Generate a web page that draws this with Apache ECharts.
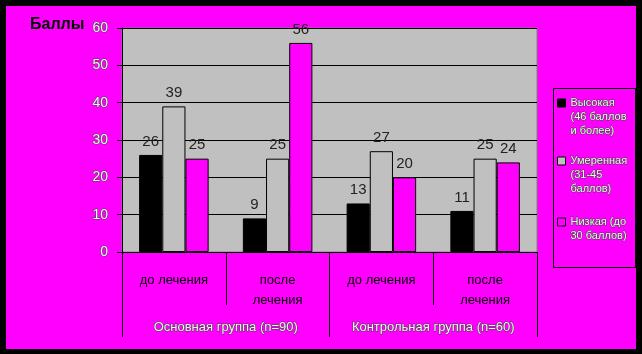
<!DOCTYPE html>
<html>
<head>
<meta charset="utf-8">
<script src="https://cdn.jsdelivr.net/npm/echarts@6/dist/echarts.min.js"></script>
<style>
  html, body { margin: 0; padding: 0; background: #000; }
  #chart { width: 642px; height: 354px; }
</style>
</head>
<body>
<div id="chart"></div>
<script>
// data
const subCategories = ['до лечения', 'после\nлечения', 'до лечения', 'после\nлечения'];
const groups = ['Основная группа (n=90)', 'Контрольная группа (n=60)'];
const seriesNames = ['Высокая (46 баллов и более)', 'Умеренная (31-45 баллов)', 'Низкая (до 30 баллов)'];
const legendText = ['Высокая\n(46 баллов\nи более)', 'Умеренная\n(31-45\nбаллов)', 'Низкая (до\n30 баллов)'];
const highValues = [26, 9, 13, 11];
const moderateValues = [39, 25, 27, 25];
const lowValues = [25, 56, 20, 24];
const yTicks = [0, 10, 20, 30, 40, 50, 60];

const FONT = '"Liberation Sans", Arial, sans-serif';
const chart = echarts.init(document.getElementById('chart'));

// light text with dark outline, as in the old office chart
const outlined = {
    color: '#f4f4f4',
    textBorderColor: '#444',
    textBorderWidth: 1,
    fontFamily: FONT,
};

const colors = ['#000000', '#c0c0c0', '#ff00ff'];
const values = [highValues, moderateValues, lowValues];

const series = seriesNames.map((name, i) => ({
    name,
    type: 'bar',
    data: values[i],
    barGap: 0,
    barCategoryGap: '33%',
    itemStyle: { color: colors[i], borderColor: '#000', borderWidth: 1 },
    label: {
        show: true,
        position: 'top',
        distance: 6,
        color: '#222',
        fontSize: 15,
        fontFamily: FONT,
    },
}));

// one legend per item; the icon path is padded downwards so the
// square lines up with the first row of the multi-line text
const LINE = 14;
const legendIcons = [103, 161, 222];
const legends = legendText.map((txt, i) => {
    const lines = txt.split('\n').length;
    const h = lines * LINE - 6;
    return {
        data: [seriesNames[i]],
        formatter: () => txt,
        orient: 'vertical',
        left: 557,
        top: legendIcons[i] - 7,
        padding: 0,
        icon: 'path://M0,0h8v8h-8zM0,' + h + 'l0.01,0',
        itemWidth: 8,
        itemHeight: h,
        itemGap: 0,
        selectedMode: false,
        itemStyle: { borderColor: '#000', borderWidth: 1 },
        textStyle: {
            ...outlined,
            fontSize: 11,
            lineHeight: LINE,
        },
    };
});

const option = {
    backgroundColor: '#000',
    animation: false,
    graphic: [
        { type: 'rect', z: -10, shape: { x: 6, y: 6, width: 630, height: 343 }, style: { fill: '#ff00ff' } },
        { type: 'rect', z: -5, shape: { x: 553.5, y: 88.5, width: 82, height: 179 }, style: { fill: 'none', stroke: '#000', lineWidth: 1 } },
        { type: 'text', left: 30, top: 17, style: { text: 'Баллы', font: 'bold 16px ' + FONT, fill: '#000' } },
    ],
    grid: {
        left: 122,
        top: 28,
        right: 105,
        bottom: 102,
        show: true,
        backgroundColor: '#c0c0c0',
        borderColor: '#808080',
        borderWidth: 1,
    },
    legend: legends,
    xAxis: [
        {
            type: 'category',
            data: subCategories,
            axisLine: { lineStyle: { color: '#000', width: 1 } },
            axisTick: { show: true, interval: 0, length: 53, lineStyle: { color: '#000' } },
            axisLabel: {
                interval: 0,
                margin: 18,
                color: '#000',
                fontSize: 13,
                lineHeight: 20,
                fontFamily: FONT,
            },
        },
        {
            type: 'category',
            position: 'bottom',
            data: groups,
            axisLine: { show: false },
            axisTick: { show: true, interval: 0, length: 85, lineStyle: { color: '#000' } },
            axisLabel: {
                interval: 0,
                margin: 69,
                fontSize: 13,
                ...outlined,
            },
        },
    ],
    yAxis: {
        type: 'value',
        min: yTicks[0],
        max: yTicks[yTicks.length - 1],
        interval: 10,
        axisLine: { show: true, lineStyle: { color: '#000' } },
        axisTick: { show: true, length: 5, lineStyle: { color: '#000' } },
        splitLine: { lineStyle: { color: '#000', width: 1 } },
        axisLabel: { margin: 14, fontSize: 14, ...outlined },
    },
    series,
};

chart.setOption(option);
</script>
</body>
</html>
